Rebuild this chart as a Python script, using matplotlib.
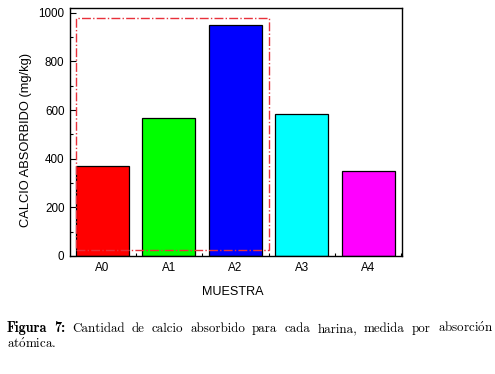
import matplotlib.pyplot as plt
from matplotlib.patches import Rectangle
from matplotlib.ticker import MultipleLocator

# Calcio absorbido por muestra (mg/kg)
muestras = ["A0", "A1", "A2", "A3", "A4"]
calcio = [370, 568, 949, 582, 349]
colores = ["#ff0000", "#00ff00", "#0000ff", "#00ffff", "#ff00ff"]

# recuadro punteado que agrupa A0-A2
caja_x = [-0.4, 2.51]
caja_y = [24, 978]

# pie de figura, palabra a palabra (linea justificada)
pie_negrita = ["Figura", "7:"]
pie_linea1 = ["Cantidad", "de", "calcio", "absorbido", "para", "cada", "harina,",
              "medida", "por", r"absorci$\mathrm{\acute{o}}$n"]
pie_linea2 = [r"at$\mathrm{\acute{o}}$mica."]

fig = plt.figure(figsize=(4.95, 3.74), dpi=100)
ax = fig.add_axes([70 / 495, 1 - 256 / 374, 332 / 495, 248 / 374])

x = list(range(len(muestras)))
ax.bar(x, calcio, width=0.8, color=colores, edgecolor="black", linewidth=0.9, zorder=2)

rect = Rectangle((caja_x[0], caja_y[0]), caja_x[1] - caja_x[0], caja_y[1] - caja_y[0],
                 fill=False, edgecolor="#e8303a", linestyle="-.", linewidth=1.0, zorder=3)
ax.add_patch(rect)

ax.set_xlim(-0.49, 4.51)
ax.set_ylim(0, 1020)
ax.set_xticks(x)
ax.set_xticklabels(muestras)
ax.xaxis.set_minor_locator(MultipleLocator(1, offset=0.5))
ax.yaxis.set_major_locator(MultipleLocator(200))
ax.yaxis.set_minor_locator(MultipleLocator(100))
ax.tick_params(which="major", direction="in", length=4, width=0.8, labelsize=8.4, pad=4)
ax.tick_params(which="minor", direction="in", length=2.5, width=0.8)
for lab in ax.get_xticklabels() + ax.get_yticklabels():
    lab.set_family("Liberation Sans")
for s in ax.spines.values():
    s.set_linewidth(1.0)

ax.set_xlabel("MUESTRA", family="Liberation Sans", fontsize=9.1)
ax.set_ylabel("CALCIO ABSORBIDO (mg/kg)", family="Liberation Sans", fontsize=9.3)
ax.xaxis.set_label_coords(0.489, -0.119)
ax.yaxis.set_label_coords(-0.113, 0.468)

# pie de figura
fs = 9.4
renderer = fig.canvas.get_renderer()


def palabra(s, px, py, bold=False):
    fam = "cmb10" if bold else "cmr10"
    return fig.text(px / 495, 1 - py / 374, s, fontsize=fs * 1.08 if bold else fs,
                    va="baseline", family=fam, math_fontfamily="cm")


tokens = [(w, True) for w in pie_negrita] + [(w, False) for w in pie_linea1]
textos = [palabra(w, 0, 332, b) for w, b in tokens]
anchos = [t.get_window_extent(renderer).width for t in textos]
x0, x1 = 7, 493
hueco = (x1 - x0 - sum(anchos)) / (len(textos) - 1)
pos = x0
for t, w in zip(textos, anchos):
    t.set_x(pos / 495)
    pos += w + hueco
for w in pie_linea2:
    palabra(w, 7, 348)

fig.savefig("out.png", dpi=100)
